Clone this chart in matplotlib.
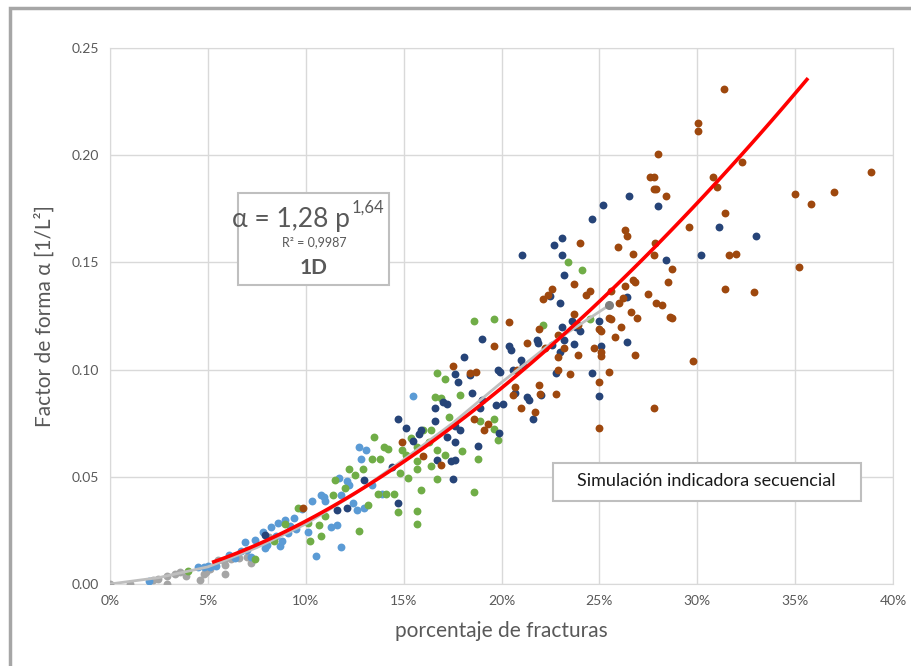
import numpy as np
import matplotlib.pyplot as plt
from matplotlib.patches import Rectangle

plt.rcParams['font.family'] = ['Lato', 'DejaVu Sans']

# puntos (p en %, alfa)
gris_p = [0.0, 1.0, 2.2, 2.45, 2.9, 2.9, 3.3, 3.6, 3.9, 4.6, 4.8, 4.9, 5.1, 5.9, 5.9, 5.8, 5.5, 6.6, 7.2, 6.2, 7.0, 8.1]
gris_a = [0.0, 0.0, 0.0018, 0.0024, 0.0038, 0.0, 0.0048, 0.0058, 0.0038, 0.0018, 0.0048, 0.0058, 0.0068, 0.0048, 0.0087,
          0.0107, 0.011, 0.0121, 0.0097, 0.0115, 0.0125, 0.022]

azul_p = [15.5, 12.7, 13.1, 12.8, 11.7, 12.1, 10.8, 10.3, 11.0, 11.8, 9.8, 9.4, 8.96, 8.6, 8.2, 7.8, 7.4, 6.9, 9.1, 9.5,
          8.8, 8.7, 7.9, 8.5, 10.1, 10.5, 11.3, 11.6, 11.8, 12.6, 13.0, 13.4, 6.1, 6.4, 7.2, 5.4, 5.1, 4.8, 4.5, 6.7,
          2.0, 10.95, 12.2, 9.2, 8.0, 7.0, 5.0, 13.9, 12.4]
azul_a = [0.0875, 0.0639, 0.0623, 0.0583, 0.0494, 0.048, 0.0415, 0.0385, 0.0385, 0.0415, 0.035, 0.031, 0.030, 0.0286,
          0.0266, 0.0242, 0.0206, 0.0196, 0.0236, 0.0256, 0.0202, 0.0175, 0.0167, 0.0222, 0.0242, 0.0131, 0.0266,
          0.0276, 0.0171, 0.0345, 0.0355, 0.0464, 0.0135, 0.0123, 0.0127, 0.0083, 0.008, 0.008, 0.0078, 0.0155,
          0.0012, 0.0405, 0.0464, 0.027, 0.018, 0.016, 0.0085, 0.042, 0.038]

verde_p = [18.6, 19.6, 22.1, 23.4, 24.1, 24.5, 16.7, 17.1, 16.9, 16.6, 17.9, 17.3, 16.4, 16.0, 15.4, 15.7, 16.3, 16.7,
           17.1, 14.0, 14.2, 13.5, 13.8, 14.9, 15.1, 15.7, 16.4, 16.7, 15.7, 15.2, 15.9, 18.6, 18.0, 18.8, 19.6,
           19.6, 19.8, 18.9, 14.5, 14.7, 15.7, 15.7, 13.7, 14.1, 12.2, 12.5, 11.5, 13.4, 12.9, 11.4, 11.0, 10.1,
           10.7, 10.2, 10.8, 12.7, 9.6, 8.96, 8.36, 7.4, 3.97, 13.2, 14.8, 12.0]
verde_a = [0.1226, 0.1234, 0.121, 0.150, 0.1466, 0.1234, 0.0986, 0.0954, 0.0869, 0.087, 0.088, 0.078, 0.072, 0.072,
           0.0683, 0.064, 0.066, 0.0627, 0.0603, 0.0637, 0.063, 0.0687, 0.0583, 0.0627, 0.0603, 0.0573, 0.0552,
           0.0492, 0.0538, 0.0494, 0.0438, 0.0429, 0.062, 0.0583, 0.0722, 0.077, 0.0673, 0.076, 0.0419, 0.0335,
           0.034, 0.0278, 0.042, 0.042, 0.0538, 0.051, 0.0484, 0.0583, 0.0538, 0.0415, 0.0315, 0.0286, 0.0274,
           0.0202, 0.0222, 0.0246, 0.0355, 0.0282, 0.0202, 0.0115, 0.006, 0.037, 0.052, 0.045]

marino_p = [25.2, 26.5, 28.0, 24.6, 21.04, 22.7, 23.1, 23.1, 23.2, 31.1, 33.0, 30.2, 28.4, 26.4, 22.99, 22.5, 23.6,
            23.8, 25.0, 23.1, 26.4, 25.1, 23.7, 23.2, 21.8, 21.85, 22.6, 23.0, 24.6, 22.8, 25.0, 20.4, 20.5, 21.0,
            21.1, 21.3, 21.4, 22.0, 21.6, 20.1, 20.6, 19.8, 19.9, 19.0, 18.1, 17.6, 18.4, 17.8, 18.5, 19.0, 18.9,
            19.7, 19.85, 18.8, 17.0, 17.2, 16.6, 16.6, 17.2, 17.6, 17.9, 16.7, 17.4, 17.6, 17.6, 17.5, 15.8, 15.9,
            15.1, 14.7, 15.5, 14.4, 14.7, 11.6, 13.0, 12.1, 7.9, 20.7, 24.0]
marino_a = [0.1768, 0.1808, 0.1764, 0.170, 0.1536, 0.158, 0.1615, 0.1536, 0.144, 0.1663, 0.1623, 0.1536, 0.151,
            0.1337, 0.131, 0.1343, 0.1228, 0.120, 0.1228, 0.120, 0.1129, 0.111, 0.112, 0.114, 0.114, 0.1123, 0.1115,
            0.108, 0.0986, 0.0984, 0.0875, 0.111, 0.109, 0.1044, 0.102, 0.087, 0.0857, 0.088, 0.077, 0.084, 0.100,
            0.100, 0.099, 0.1143, 0.106, 0.098, 0.0976, 0.0944, 0.089, 0.086, 0.082, 0.0835, 0.0702, 0.0643, 0.085,
            0.084, 0.082, 0.076, 0.0687, 0.0736, 0.0718, 0.0577, 0.0575, 0.058, 0.066, 0.049, 0.070, 0.0718, 0.0728,
            0.0768, 0.0668, 0.0548, 0.038, 0.0345, 0.0484, 0.0355, 0.023, 0.089, 0.118]

cafe_p = [31.37, 30.06, 30.06, 27.97, 30.8, 27.6, 27.8, 38.87, 27.9, 27.8, 28.4, 31.0, 35.0, 37.0, 35.8, 32.3, 31.4,
          29.6, 26.3, 26.4, 24.0, 27.85, 25.97, 31.6, 32.0, 26.7, 27.8, 35.2, 28.7, 28.5, 31.4, 32.9, 26.7, 26.8,
          26.3, 25.6, 24.5, 23.7, 22.6, 22.4, 22.1, 27.5, 27.9, 28.2, 26.0, 26.2, 28.7, 28.6, 26.9, 26.6, 25.5,
          25.6, 26.1, 25.8, 25.0, 25.1, 25.1, 25.1, 26.8, 24.7, 23.7, 23.9, 22.9, 23.2, 22.2, 21.9, 21.3, 22.9,
          23.9, 22.9, 23.5, 22.8, 25.5, 25.0, 29.8, 27.8, 25.0, 20.4, 19.6, 20.8, 20.6, 20.7, 21.0, 21.7, 21.9,
          21.97, 17.5, 18.4, 19.3, 19.1, 18.6, 16.9, 16.0, 14.9, 9.85, 18.7, 24.3]
cafe_a = [0.231, 0.215, 0.2115, 0.2006, 0.190, 0.190, 0.190, 0.192, 0.184, 0.184, 0.181, 0.185, 0.182, 0.183, 0.177,
          0.197, 0.173, 0.1667, 0.165, 0.1623, 0.159, 0.159, 0.157, 0.1536, 0.154, 0.154, 0.1536, 0.148, 0.147, 0.141,
          0.1377, 0.1361, 0.1417, 0.141, 0.139, 0.1367, 0.1367, 0.140, 0.1377, 0.135, 0.1327, 0.1353, 0.131, 0.130,
          0.131, 0.1335, 0.124, 0.1245, 0.124, 0.127, 0.124, 0.1235, 0.120, 0.115, 0.119, 0.118, 0.108, 0.1065,
          0.107, 0.110, 0.126, 0.121, 0.116, 0.110, 0.110, 0.1187, 0.1123, 0.106, 0.107, 0.100, 0.098, 0.0885,
          0.0988, 0.094, 0.104, 0.082, 0.0728, 0.122, 0.111, 0.0996, 0.088, 0.092, 0.082, 0.080, 0.093, 0.0885,
          0.1016, 0.0984, 0.0746, 0.0718, 0.077, 0.0553, 0.0597, 0.0663, 0.0355, 0.099, 0.135]

# curva media (gris) y ajuste potencial
media_p = [0.0, 2.5, 5.0, 7.5, 10.0, 12.5, 15.0, 17.5, 20.0, 22.5, 25.5]
media_a = [0.0, 0.003, 0.008, 0.017, 0.028, 0.042, 0.058, 0.075, 0.094, 0.112, 0.130]
coef = 1.28
expo = 1.64
p_ajuste = np.linspace(0.053, 0.356, 100)

fig = plt.figure(figsize=(9.12, 6.66), dpi=100)
ax = fig.add_axes([0.1206, 0.1231, 0.8586, 0.8049])

# marco gris exterior
fig.patches.append(Rectangle((10/912, -0.05), 1.1, 1 - 8/666 + 0.05, transform=fig.transFigure,
                             fill=False, edgecolor='#A6A6A6', linewidth=2.5))

s = 32
ax.scatter(np.array(gris_p)/100, gris_a, s=s, color='#A5A5A5', zorder=3, linewidths=0)
ax.scatter(np.array(azul_p)/100, azul_a, s=s, color='#5B9BD5', zorder=3, linewidths=0)
ax.scatter(np.array(verde_p)/100, verde_a, s=s, color='#70AD47', zorder=3, linewidths=0)
ax.scatter(np.array(marino_p)/100, marino_a, s=s, color='#264478', zorder=3, linewidths=0)
ax.scatter(np.array(cafe_p)/100, cafe_a, s=s, color='#9E480E', zorder=3, linewidths=0)

ax.plot(np.array(media_p)/100, media_a, color='#BFBFBF', linewidth=2, zorder=4)
ax.plot([media_p[-1]/100], [media_a[-1]], 'o', color='#7F7F7F', markersize=5.5, zorder=4)
ax.plot(p_ajuste, coef*p_ajuste**expo, color='#FF0000', linewidth=2.6, zorder=5)

ax.set_xlim(0, 0.40)
ax.set_ylim(0, 0.25)
ax.set_xticks(np.arange(0, 0.401, 0.05))
ax.set_xticklabels([f'{int(round(v*100))}%' for v in np.arange(0, 0.401, 0.05)])
ax.set_yticks(np.arange(0, 0.251, 0.05))
ax.set_yticklabels([f'{v:.2f}' for v in np.arange(0, 0.251, 0.05)])
ax.grid(True, color='#D9D9D9', linewidth=1)
ax.set_axisbelow(True)
for sp in ax.spines.values():
    sp.set_color('#D9D9D9')
ax.tick_params(length=0, labelsize=10, colors='#595959', pad=8)

ax.set_xlabel('porcentaje de fracturas', fontsize=15, color='#595959', labelpad=10)
ax.set_ylabel('Factor de forma α [1/L²]', fontsize=15, color='#595959', labelpad=12)

# cuadros de texto
fig.patches.append(Rectangle((238/912, 1 - 285/666), 151/912, 92/666, transform=fig.transFigure,
                             facecolor='white', edgecolor='#BFBFBF', linewidth=1.5, zorder=6))
fig.text(350/912, 1 - 219/666, 'α = 1,28 p', fontsize=19, color='#595959',
         ha='right', va='center', zorder=7)
fig.text(352/912, 1 - 208/666, '1,64', fontsize=12, color='#595959',
         ha='left', va='center', zorder=7)
fig.text(314/912, 1 - 242/666, 'R² = 0,9987', fontsize=9, color='#595959', ha='center', va='center', zorder=7)
fig.text(314/912, 1 - 268/666, '1D', fontsize=15, fontweight='bold', color='#595959',
         ha='center', va='center', zorder=7)

fig.patches.append(Rectangle((553/912, 1 - 501/666), 308/912, 38/666, transform=fig.transFigure,
                             facecolor='white', edgecolor='#BFBFBF', linewidth=1.5, zorder=6))
fig.text(706/912, 1 - 481/666, 'Simulación indicadora secuencial', fontsize=13, color='#1a1a1a',
         ha='center', va='center', zorder=7)

plt.savefig('out.png', dpi=100)
